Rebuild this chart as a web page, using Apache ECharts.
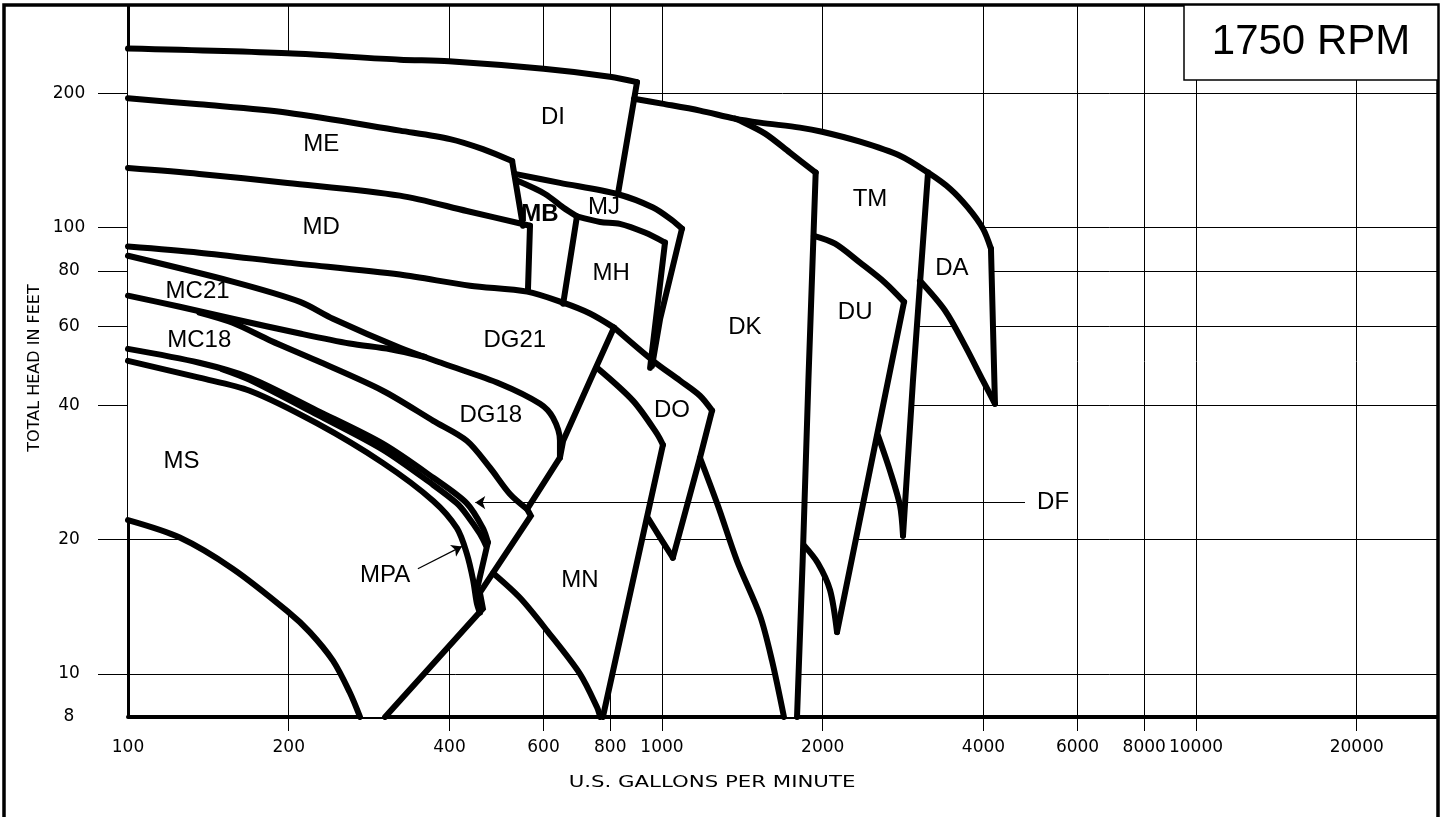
<!DOCTYPE html>
<html><head><meta charset="utf-8">
<script src="https://cdn.jsdelivr.net/npm/echarts@6/dist/echarts.min.js"></script>
<style>html,body{margin:0;padding:0;background:#fff}#c{width:1442px;height:817px}</style>
</head><body><div id="c"></div>
<script>
// ---- axis ticks / labels ----
const xTicks = [200,400,600,800,1000,2000,4000,6000,8000,10000,20000];
const xLabels = [100,200,400,600,800,1000,2000,4000,6000,8000,10000,20000];
const yTicks = [10,20,40,60,80,100,200];
const yLabels = [8,10,20,40,60,80,100,200];

// ---- pump coverage boundaries [gpm, feet] ----
// curved boundaries
const diTop   = [[100,252],[199,246],[323,238],[399,236],[600,227],[799,218],[898,212]];
const meTop   = [[100,195],[136,189],[199,181],[323,165],[401,158],[462,150],[524,141]];
const mdTop   = [[100,136],[136,132],[199,126],[323,118],[431,109],[566,101]];
const mjTop   = [[530,132],[644,126],[824,119],[962,111],[1044,104],[1090,99.5]];
const mbTop   = [[535,127.5],[604,119],[653,111],[693,106]];
const mhTop   = [[693,106],[766,103],[834,102],[929,97.5],[1013,92.6]];
const dg21Top = [[100,90.7],[136,87.9],[199,83.5],[323,78.5],[437,74.1],[559,71.9],[653,67.9],[733,64.2],[813,59.7]];
const doTop   = [[813,59.7],[962,50.3],[1081,45.4],[1178,42],[1241,38.9]];
const dg21Low = [[100,86.5],[157,75.7],[210,68.2],[242,62.5],[323,53.8],[389,49.6],[497,44.7],[591,40.3],[625,37.5],[644,33.3],[644,30.5]];
const mc21Low = [[100,70.4],[125,66.5],[157,62.5],[210,57.9],[260,55.0],[310,53.4],[360,51.3]];
const dg18Low = [[136,64.5],[157,61.2],[185,55.8],[226,50.3],[300,43.1],[373,36.9],[431,33.3],[476,29],[519,25.3],[559,23.4]];
const mc18Low = [[100,53.5],[136,49.8],[169,46.1],[226,38.9],[300,32.8],[373,27.5],[431,24.1],[462,21.2],[472,19.7]];
const dfLow   = [[150,48.2],[169,45.6],[226,38.1],[300,31.8],[373,26.5],[413,24.1],[431,22.7],[456,20.6],[468,19.4]];
const msTop   = [[100,50.3],[136,46.1],[169,43.1],[226,36.4],[300,29.7],[373,24.4],[413,21.2],[431,18.6],[443,16.2],[450,14.4],[456,13.7]];
const msLow   = [[100,22.1],[125,20.2],[157,17.2],[199,13.8],[219,12.4],[242,10.7],[260,9.1],[272,8]];
const mnLeft  = [[483,16.8],[542,14.8],[609,12.5],[702,10],[756,8.4],[766,8]];
const mnTop   = [[756,48.5],[883,40.9],[979,34.5],[1004,32.6]];
const doLow   = [[942,22.3],[992,20.2],[1048,18.2]];
const dkLeft  = [[1178,30.5],[1273,23.8],[1382,17.9],[1526,13.5],[1607,10.7],[1692,8]];
const topEdge = [[886,194.6],[1000,189.7],[1178,183],[1370,175.6],[1526,172],[1813,167.6],[1994,164.1],[2349,155.9],[2791,145],[3149,132.9],[3462,122.3],[3741,110.9],[3991,99.5],[4131,89.7]];
const dkTopR  = [[1370,175.6],[1400,173.8],[1560,162.5],[1736,147.3],[1940,132.9]];
const duTop   = [[1925,95.9],[2109,92.1],[2349,83.5],[2616,75.3],[2840,68.2]];
const duLow   = [[1845,19.4],[1959,17.7],[2064,15.4],[2127,12.4]];
const tmLow   = [[2538,34.2],[2673,28.5],[2791,23.8],[2827,20.4]];
const daLow   = [[3042,76],[3388,65.2],[3693,54.4],[3991,45.4],[4203,40.3]];
// straight limit lines
const diRight   = [[898,212],[827,119]];
const meRight   = [[524,141],[549,101]];
const mdRight   = [[566,101],[561,72.3]];
const mjRight   = [[1090,99.5],[992,62.5],[958,49]];
const mbRight   = [[693,106],[653,67.5]];
const mhRight   = [[1013,92.6],[950,48.5]];
const dg21Right = [[813,59.7],[733,45.4],[653,33.3],[644,30.5],[559,23.4],[568,22.6],[456,15.2],[462,14.0],[303,8]];
const doRight   = [[1241,38.9],[1178,30.5],[1048,18.2]];
const mnRight   = [[1004,32.6],[775,8]];
const mc18Right = [[472,19.7],[450,15.4]];
const daRight   = [[4131,89.7],[4203,40.3]];
const dkRight   = [[1940,132.9],[1880,45.4],[1834,17.9],[1790,8]];
const duRight   = [[2840,68.2],[2127,12.4]];
const tmRight   = [[3149,132.9],[2951,45.4],[2827,20.4]];

// outline of the whole covered area (white)
const coverage = [
 [100,252],[199,246],[323,238],[399,236],[600,227],[799,218],[898,212],[886,194.6],
 [1000,189.7],[1178,183],[1370,175.6],[1526,172],[1813,167.6],[1994,164.1],[2349,155.9],[2791,145],[3149,132.9],
 [3462,122.3],[3741,110.9],[3991,99.5],[4131,89.7],[4203,40.3],
 [3991,45.4],[3693,54.4],[3388,65.2],[3042,76],
 [2951,45.4],[2827,20.4],[2791,23.8],[2673,28.5],[2538,34.2],
 [2127,12.4],[2064,15.4],[1959,17.7],[1845,19.4],[1834,17.9],[1790,8],
 [1692,8],[1607,10.7],[1526,13.5],[1382,17.9],[1273,23.8],[1178,30.5],
 [1048,18.2],[992,20.2],[942,22.3],
 [775,8],[766,8],[756,8.4],[702,10],[609,12.5],[542,14.8],[483,16.8],
 [456,15.2],[462,14.0],[303,8],
 [272,8],[260,9.1],[242,10.7],[219,12.4],[199,13.8],[157,17.2],[125,20.2],[100,22.1]
];

// region labels
const regionNames = ['DI','ME','MD','MB','MJ','MH','DK','TM','DA','DU','MC21','MC18','DG21','DG18','DO','MS','MN','MPA','DF'];
const regionLabelAt = [[625,177],[230,154],[230,100],[591,107],[779,111],[803,79],[1430,59.7],[2452,116],[3490,81],[2300,64.5],[135,72],[136,56],[530,56],[478,38],[1044,38.9],[126,30],[702,16.2],[303,16.6],[5400,24.2]];

// pointer arrows
const dfArrow  = [[4784,24.2],[447,24.2]];
const mpaArrow = [[349,17.2],[422,19.3]];

const FONT = 'DejaVu Sans';
const LFONT = 'Liberation Sans';
const smoothCurves = [diTop,meTop,mdTop,mjTop,mbTop,mhTop,dg21Top,doTop,dg21Low,mc21Low,dg18Low,mc18Low,dfLow,msTop,msLow,mnLeft,mnTop,doLow,dkLeft,topEdge,dkTopR,duTop,duLow,tmLow,daLow];
const straightLines = [diRight,meRight,mdRight,mjRight,mbRight,mhRight,dg21Right,doRight,mnRight,mc18Right,daRight,dkRight,duRight,tmRight];

const series = [];
series.push({
  type:'custom', coordinateSystem:'cartesian2d', silent:true, z:2, animation:false,
  data:[[100,100]],
  renderItem:(p,api)=>({type:'polygon', shape:{points: coverage.map(c=>api.coord(c))}, style:{fill:'#fff', stroke:null}})
});
smoothCurves.forEach(c=>series.push({
  type:'line', data:c, symbol:'none', showSymbol:false, silent:true, z:3, animation:false, smooth:0.3,
  lineStyle:{color:'#000', width:6, join:'round', cap:'round'}
}));
straightLines.forEach(c=>series.push({
  type:'line', data:c, symbol:'none', showSymbol:false, silent:true, z:3, animation:false, smooth:false,
  lineStyle:{color:'#000', width:6, join:'miter', miterLimit:6, cap:'round'}
}));
series.push({
  type:'lines', coordinateSystem:'cartesian2d', z:4, silent:true, animation:false,
  symbol:['none','arrow'], symbolSize:10,
  lineStyle:{color:'#000', width:1.2, opacity:1, curveness:0},
  data:[{coords:dfArrow},{coords:mpaArrow}]
});
series.push({
  type:'scatter', z:5, silent:true, animation:false, symbolSize:0.5,
  itemStyle:{color:'#fff', opacity:1},
  data: regionLabelAt.map((p,i)=>({value:[p[0],p[1]], name:regionNames[i],
        label:{color:'#000', opacity:1, fontWeight: regionNames[i]==='MB'?'bold':'normal'}})),
  label:{show:true, position:'inside', formatter:p=>p.name, fontSize:24, fontFamily:LFONT, color:'#000', opacity:1, textBorderWidth:0}
});

const option = {
  animation:false,
  backgroundColor:'#fff',
  textStyle:{fontFamily:FONT, color:'#000'},
  grid:{left:128, right:5, top:6, bottom:100, containLabel:false, outerBoundsMode:'none'},
  xAxis:{
    type:'log', logBase:10, min:100, max:28270,
    axisLine:{show:true, onZero:false, lineStyle:{color:'#000', width:4}},
    axisTick:{show:true, customValues:xTicks, length:14, inside:false, lineStyle:{color:'#000', width:1}},
    axisLabel:{show:true, customValues:xLabels, margin:22, fontSize:17, fontFamily:FONT, color:'#000', formatter:v=>String(Math.round(v))},
    splitLine:{show:true, lineStyle:{color:'#000', width:1}},
    minorTick:{show:false}, minorSplitLine:{show:false}
  },
  yAxis:{
    type:'log', logBase:10, min:8, max:314,
    axisLine:{show:true, onZero:false, lineStyle:{color:'#000', width:3}},
    axisTick:{show:true, customValues:yTicks, length:30, inside:false, lineStyle:{color:'#000', width:1}},
    axisLabel:{show:true, customValues:yLabels, margin:59, align:'center', fontSize:17, fontFamily:FONT, color:'#000', formatter:v=>String(Math.round(v))},
    splitLine:{show:true, lineStyle:{color:'#000', width:1}},
    minorTick:{show:false}, minorSplitLine:{show:false}
  },
  graphic:[
    {type:'polyline', z:100, silent:true, shape:{points:[[4,830],[4,5],[1438,5],[1438,830]]}, style:{stroke:'#000', lineWidth:3.5, fill:null}},
    {type:'rect', z:100, silent:true, shape:{x:1184, y:5, width:254, height:75}, style:{fill:'#fff', stroke:'#000', lineWidth:1.5}},
    {type:'text', z:101, silent:true, x:1311, y:42, style:{text:'1750 RPM', font:'42px "Liberation Sans"', fill:'#000', align:'center', verticalAlign:'middle', textAlign:'center', textVerticalAlign:'middle'}},
    {type:'text', z:101, silent:true, x:35, y:368, rotation:Math.PI/2, style:{text:'TOTAL HEAD IN FEET', font:'16px "DejaVu Sans"', fill:'#000', align:'center', verticalAlign:'middle', textAlign:'center', textVerticalAlign:'middle'}},
    {type:'text', z:101, silent:true, x:712, y:783, scaleX:1.33, style:{text:'U.S. GALLONS PER MINUTE', font:'16px "DejaVu Sans"', fill:'#000', align:'center', verticalAlign:'middle', textAlign:'center', textVerticalAlign:'middle'}}
  ],
  series: series
};
const chart = echarts.init(document.getElementById('c'));
chart.setOption(option);
</script>
</body></html>
